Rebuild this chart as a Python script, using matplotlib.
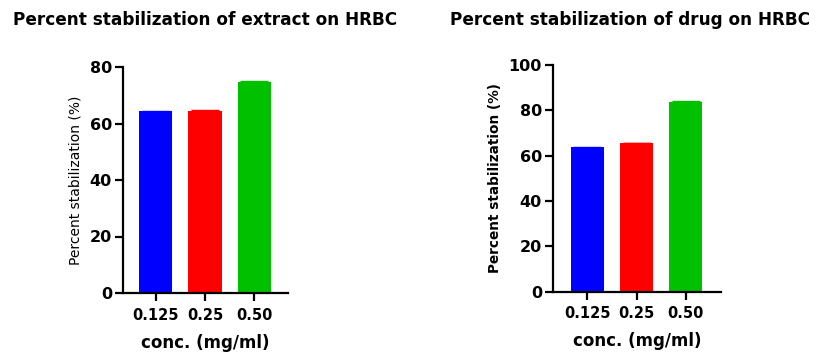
import matplotlib
matplotlib.use("Agg")
import matplotlib.pyplot as plt

# data
conc_labels = ["0.125", "0.25", "0.50"]
extract_vals = [64.4, 64.5, 74.6]
extract_err = [0.2, 0.2, 0.4]
drug_vals = [63.8, 65.6, 83.8]
drug_err = [0.2, 0.2, 0.1]
bar_colors = ["#0000FF", "#FF0000", "#00C000"]

W, H = 837, 360
fig = plt.figure(figsize=(W / 100, H / 100), dpi=100)
plt.rcParams["font.family"] = ["DejaVu Sans"]


def box(x0, x1, y_top, y_bot):
    return [x0 / W, 1 - y_bot / H, (x1 - x0) / W, (y_bot - y_top) / H]


def panel(ax, vals, errs, ymax, title, ylabel, ylabel_bold, xlim, title_x):
    x = list(range(len(vals)))
    ax.bar(x, vals, width=0.67, color=bar_colors, zorder=2)
    for xi, v, e, c in zip(x, vals, errs, bar_colors):
        ax.errorbar(xi, v, yerr=e, fmt="none", ecolor=c,
                    elinewidth=1, capsize=10, capthick=1, zorder=3)
    ax.set_xlim(*xlim)
    ax.set_ylim(0, ymax)
    ax.set_yticks(range(0, ymax + 1, 20))
    ax.set_xticks(x)
    ax.set_xticklabels(conc_labels)
    for s in ["top", "right"]:
        ax.spines[s].set_visible(False)
    for s in ["left", "bottom"]:
        ax.spines[s].set_linewidth(1.6)
    ax.tick_params(axis="both", width=1.6, length=6, direction="out")
    ax.tick_params(axis="x", labelsize=10.5, pad=4.5)
    ax.tick_params(axis="y", labelsize=11.5, pad=2)
    for lab in ax.get_xticklabels() + ax.get_yticklabels():
        lab.set_fontweight("bold")
    ax.set_xlabel("conc. (mg/ml)", fontsize=12, fontweight="bold", labelpad=8)
    ax.set_ylabel(ylabel, fontsize=10 if not ylabel_bold else 9.8,
                  fontweight="bold" if ylabel_bold else "normal", labelpad=5)
    fig.text(title_x / W, 1 - 20 / H, title, ha="center", va="center",
             fontsize=12.2, fontweight="bold")


ax1 = fig.add_axes(box(123, 287.7, 67, 293))
panel(ax1, extract_vals, extract_err, 80,
      "Percent stabilization of extract on HRBC",
      "Percent stabilization (%)", False, (-0.663, 2.677), 205)

ax2 = fig.add_axes(box(553, 721, 65, 291.7))
panel(ax2, drug_vals, drug_err, 100,
      "Percent stabilization of drug on HRBC",
      "Percent stabilization (%)", True, (-0.69, 2.71), 630)

fig.savefig("out.png", dpi=100)
